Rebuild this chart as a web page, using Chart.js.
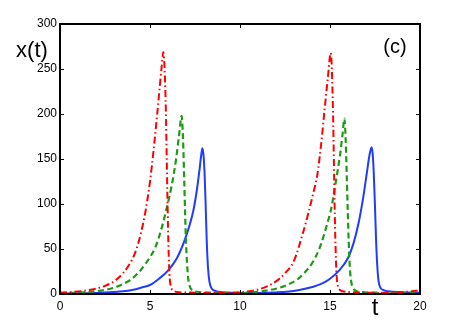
<!DOCTYPE html>
<html>
<head>
<meta charset="utf-8">
<script src="https://cdn.jsdelivr.net/npm/chart.js@4/dist/chart.umd.min.js"></script>
<style>
  html, body { margin: 0; padding: 0; background: #ffffff; }
  #wrap { position: relative; width: 463px; height: 331px; }
</style>
</head>
<body>
<div id="wrap"><canvas id="c" width="463" height="331"></canvas></div>
<script>
// ---- data ----
const tRed = [0, 0.5, 1, 1.5, 2, 2.5, 3, 3.5, 4, 4.25, 4.5, 4.75, 5, 5.2, 5.4, 5.55, 5.65, 5.74, 5.78, 5.83, 5.88, 5.93, 5.98, 6.03, 6.08, 6.14, 6.22, 6.35, 6.6, 7.5, 8.5, 9.3, 10, 10.5, 11, 11.5, 12, 12.5, 13, 13.5, 13.8, 14.07, 14.3, 14.5, 14.7, 14.88, 15.04, 15.08, 15.13, 15.18, 15.23, 15.28, 15.33, 15.38, 15.45, 15.55, 15.7, 16.2, 17, 18, 19, 20];
const vRed = [1.5, 2, 2.8, 4, 6, 9, 14, 23, 38, 50, 68, 92, 125, 160, 200, 232, 253, 269, 262, 240, 205, 150, 95, 50, 22, 10, 5, 3, 2, 1.5, 1, 1.2, 2, 3, 5, 8.5, 14, 23, 37, 68, 90, 112, 133, 165, 205, 240, 268, 260, 232, 190, 130, 75, 38, 17, 8, 4.5, 3, 2, 1.5, 1, 2, 4];

const tGreen = [0, 1, 2, 2.5, 3, 3.5, 4, 4.5, 5, 5.3, 5.6, 5.9, 6.2, 6.45, 6.62, 6.76, 6.8, 6.85, 6.9, 6.95, 7.0, 7.06, 7.13, 7.22, 7.35, 7.6, 8.5, 9.5, 10, 11, 11.67, 12.2, 12.6, 13.15, 13.5, 14, 14.44, 14.8, 15.09, 15.35, 15.56, 15.7, 15.8, 15.84, 15.89, 15.94, 15.99, 16.04, 16.1, 16.17, 16.27, 16.4, 16.6, 17.5, 19, 20];
const vGreen = [1, 1.5, 3, 4.5, 7, 11, 17, 27, 41, 52, 70, 93, 120, 150, 177, 198, 188, 163, 128, 90, 58, 33, 16, 8, 4, 2.5, 1.5, 1, 1, 2.5, 4.5, 7, 10, 15.6, 22, 34, 52, 75, 97, 128, 155, 178, 195, 185, 160, 125, 90, 58, 30, 15, 7, 4, 2.5, 1.5, 1, 1.5];

const tBlue = [0, 1, 2, 3, 3.5, 4, 4.5, 5, 5.5, 6, 6.5, 7, 7.4, 7.6, 7.75, 7.85, 7.91, 7.97, 8.03, 8.09, 8.15, 8.22, 8.3, 8.4, 8.55, 8.8, 9.5, 10.5, 11, 12, 12.6, 13.3, 14.07, 14.6, 15, 15.5, 16, 16.3, 16.6, 16.85, 17.05, 17.2, 17.31, 17.37, 17.43, 17.5, 17.56, 17.63, 17.7, 17.8, 17.95, 18.2, 19, 20];
const vBlue = [0.5, 0.8, 1.2, 2.2, 3, 4.5, 7, 10, 17, 26, 40, 64, 92, 115, 138, 155, 162, 155, 135, 100, 60, 30, 14, 7, 4, 2.5, 1.5, 1, 1, 1.8, 2.6, 4.5, 8, 12, 17, 26, 40, 56, 80, 108, 135, 155, 163, 156, 135, 97, 60, 30, 14, 7, 4.5, 3, 2, 1.5];

const xTickValues = [0, 5, 10, 15, 20];
const yTickValues = [0, 50, 100, 150, 200, 250, 300];
const xAxisLabel = 't';
const yAxisLabel = 'x(t)';
const panelLabel = '(c)';

const toPts = (ts, vs) => ts.map((t, i) => ({ x: t, y: vs[i] }));

const FONT = '"Liberation Sans", Arial, Helvetica, sans-serif';

const framePlugin = {
  id: 'frame',
  afterDatasetsDraw(chart) {
    const { ctx, chartArea: a, scales } = chart;
    ctx.save();
    ctx.strokeStyle = '#000';
    ctx.lineWidth = 1;
    const tl = 4;
    ctx.beginPath();
    xTickValues.forEach(v => {
      const px = Math.round(scales.x.getPixelForValue(v)) + 0.5;
      ctx.moveTo(px, a.bottom); ctx.lineTo(px, a.bottom - tl);
      ctx.moveTo(px, a.top); ctx.lineTo(px, a.top + tl);
    });
    yTickValues.forEach(v => {
      const py = Math.round(scales.y.getPixelForValue(v)) + 0.5;
      ctx.moveTo(a.left, py); ctx.lineTo(a.left + tl, py);
      ctx.moveTo(a.right, py); ctx.lineTo(a.right - tl, py);
    });
    ctx.stroke();
    ctx.lineWidth = 2;
    ctx.strokeRect(a.left, a.top, a.right - a.left, a.bottom - a.top);
    ctx.fillStyle = '#000';
    ctx.textAlign = 'center';
    ctx.textBaseline = 'middle';
    ctx.font = '22px ' + FONT;
    ctx.fillText(yAxisLabel, 32, 51);
    ctx.font = '24px ' + FONT;
    ctx.fillText(xAxisLabel, 375, 308);
    ctx.font = '20px ' + FONT;
    ctx.fillText(panelLabel, 395, 47);
    ctx.restore();
  }
};

new Chart(document.getElementById('c'), {
  type: 'line',
  data: {
    datasets: [
      { data: toPts(tRed, vRed), borderColor: '#ff0000', borderWidth: 2, borderDash: [7, 3, 1.5, 3] },
      { data: toPts(tGreen, vGreen), borderColor: '#1e9a14', borderWidth: 2.2, borderDash: [6, 3.5] },
      { data: toPts(tBlue, vBlue), borderColor: '#1f3cff', borderWidth: 2 }
    ]
  },
  options: {
    responsive: false,
    animation: false,
    devicePixelRatio: 1,
    layout: { padding: { left: 0, top: 24, right: 43, bottom: 0 } },
    elements: {
      point: { radius: 0 },
      line: { cubicInterpolationMode: 'monotone', fill: false, borderJoinStyle: 'round' }
    },
    plugins: { legend: { display: false }, tooltip: { enabled: false } },
    scales: {
      x: {
        type: 'linear', min: 0, max: 20,
        grid: { display: false, drawTicks: false },
        border: { display: false },
        afterBuildTicks: s => { s.ticks = xTickValues.map(v => ({ value: v })); },
        afterFit: s => { s.height = 37; },
        ticks: { color: '#000', font: { family: FONT, size: 12 }, padding: 5, maxRotation: 0 }
      },
      y: {
        type: 'linear', min: 0, max: 300,
        grid: { display: false, drawTicks: false },
        border: { display: false },
        afterBuildTicks: s => { s.ticks = yTickValues.map(v => ({ value: v })); },
        afterFit: s => { s.width = 60; },
        ticks: { color: '#000', font: { family: FONT, size: 12 }, padding: 3 }
      }
    }
  },
  plugins: [framePlugin]
});
</script>
</body>
</html>
